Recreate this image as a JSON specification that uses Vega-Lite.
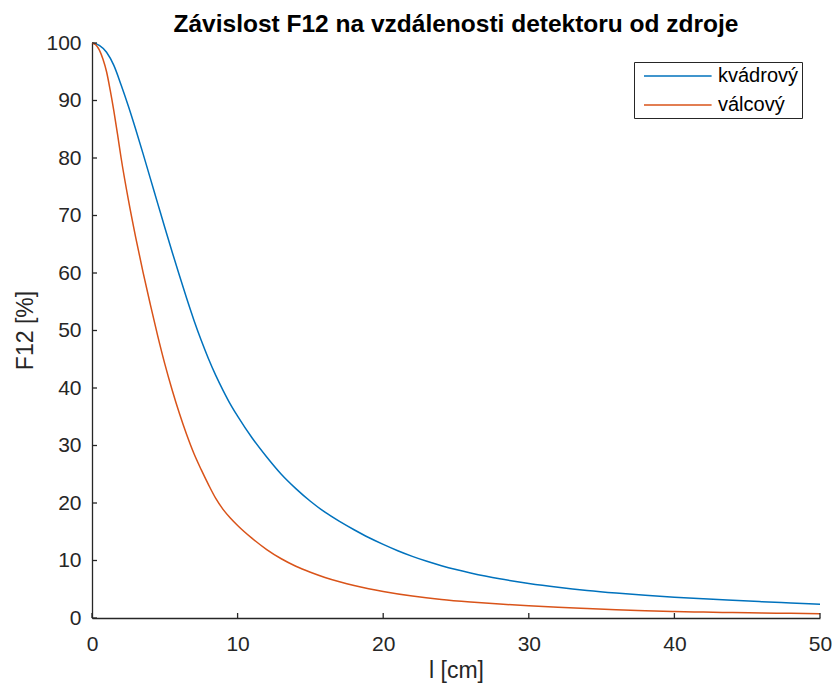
{
  "$schema": "https://vega.github.io/schema/vega-lite/v6.json",
  "width": 728,
  "height": 575,
  "autosize": {"type": "none"},
  "padding": {"left": 92, "top": 43, "right": 15, "bottom": 71},
  "background": "white",
  "title": {
    "text": "Závislost F12 na vzdálenosti detektoru od zdroje",
    "font": "Liberation Sans",
    "fontSize": 24.5,
    "fontWeight": "bold",
    "color": "#000000",
    "anchor": "middle",
    "offset": -5
  },
  "layer": [
    {
      "data": {
        "values": [
          {"l": 0, "F": 100, "typ": "kvádrový"},
          {"l": 0.5, "F": 99.6, "typ": "kvádrový"},
          {"l": 1, "F": 98.4, "typ": "kvádrový"},
          {"l": 1.5, "F": 96.1, "typ": "kvádrový"},
          {"l": 2, "F": 92.7, "typ": "kvádrový"},
          {"l": 2.5, "F": 89.0, "typ": "kvádrový"},
          {"l": 3, "F": 85.0, "typ": "kvádrový"},
          {"l": 3.5, "F": 80.8, "typ": "kvádrový"},
          {"l": 4, "F": 76.5, "typ": "kvádrový"},
          {"l": 4.5, "F": 72.2, "typ": "kvádrový"},
          {"l": 5, "F": 67.9, "typ": "kvádrový"},
          {"l": 5.5, "F": 63.7, "typ": "kvádrový"},
          {"l": 6, "F": 59.6, "typ": "kvádrový"},
          {"l": 6.5, "F": 55.6, "typ": "kvádrový"},
          {"l": 7, "F": 51.8, "typ": "kvádrový"},
          {"l": 7.5, "F": 48.3, "typ": "kvádrový"},
          {"l": 8, "F": 45.1, "typ": "kvádrový"},
          {"l": 8.5, "F": 42.2, "typ": "kvádrový"},
          {"l": 9, "F": 39.6, "typ": "kvádrový"},
          {"l": 9.5, "F": 37.2, "typ": "kvádrový"},
          {"l": 10, "F": 35.1, "typ": "kvádrový"},
          {"l": 11, "F": 31.3, "typ": "kvádrový"},
          {"l": 12, "F": 28.0, "typ": "kvádrový"},
          {"l": 13, "F": 25.0, "typ": "kvádrový"},
          {"l": 14, "F": 22.5, "typ": "kvádrový"},
          {"l": 15, "F": 20.3, "typ": "kvádrový"},
          {"l": 16, "F": 18.4, "typ": "kvádrový"},
          {"l": 17, "F": 16.8, "typ": "kvádrový"},
          {"l": 18, "F": 15.35, "typ": "kvádrový"},
          {"l": 19, "F": 14.0, "typ": "kvádrový"},
          {"l": 20, "F": 12.8, "typ": "kvádrový"},
          {"l": 21, "F": 11.7, "typ": "kvádrový"},
          {"l": 22, "F": 10.72, "typ": "kvádrový"},
          {"l": 23, "F": 9.86, "typ": "kvádrový"},
          {"l": 24, "F": 9.1, "typ": "kvádrový"},
          {"l": 25, "F": 8.43, "typ": "kvádrový"},
          {"l": 26, "F": 7.84, "typ": "kvádrový"},
          {"l": 27, "F": 7.3, "typ": "kvádrový"},
          {"l": 28, "F": 6.82, "typ": "kvádrový"},
          {"l": 29, "F": 6.4, "typ": "kvádrový"},
          {"l": 30, "F": 6.02, "typ": "kvádrový"},
          {"l": 32, "F": 5.36, "typ": "kvádrový"},
          {"l": 34, "F": 4.8, "typ": "kvádrový"},
          {"l": 36, "F": 4.34, "typ": "kvádrový"},
          {"l": 38, "F": 3.95, "typ": "kvádrový"},
          {"l": 40, "F": 3.62, "typ": "kvádrový"},
          {"l": 42, "F": 3.33, "typ": "kvádrový"},
          {"l": 44, "F": 3.07, "typ": "kvádrový"},
          {"l": 46, "F": 2.83, "typ": "kvádrový"},
          {"l": 48, "F": 2.61, "typ": "kvádrový"},
          {"l": 50, "F": 2.4, "typ": "kvádrový"},
          {"l": 0, "F": 100, "typ": "válcový"},
          {"l": 0.25, "F": 99.7, "typ": "válcový"},
          {"l": 0.5, "F": 98.8, "typ": "válcový"},
          {"l": 0.75, "F": 97.2, "typ": "válcový"},
          {"l": 1, "F": 95.0, "typ": "válcový"},
          {"l": 1.25, "F": 91.8, "typ": "válcový"},
          {"l": 1.5, "F": 88.2, "typ": "válcový"},
          {"l": 1.75, "F": 84.2, "typ": "válcový"},
          {"l": 2, "F": 80.0, "typ": "válcový"},
          {"l": 2.5, "F": 72.7, "typ": "válcový"},
          {"l": 3, "F": 66.2, "typ": "válcový"},
          {"l": 3.5, "F": 60.2, "typ": "válcový"},
          {"l": 4, "F": 54.6, "typ": "válcový"},
          {"l": 4.5, "F": 49.2, "typ": "válcový"},
          {"l": 5, "F": 44.2, "typ": "válcový"},
          {"l": 5.5, "F": 39.7, "typ": "válcový"},
          {"l": 6, "F": 35.6, "typ": "válcový"},
          {"l": 6.5, "F": 31.9, "typ": "válcový"},
          {"l": 7, "F": 28.6, "typ": "válcový"},
          {"l": 7.5, "F": 25.8, "typ": "válcový"},
          {"l": 8, "F": 23.2, "typ": "válcový"},
          {"l": 8.5, "F": 20.8, "typ": "válcový"},
          {"l": 9, "F": 18.9, "typ": "válcový"},
          {"l": 9.5, "F": 17.4, "typ": "válcový"},
          {"l": 10, "F": 16.1, "typ": "válcový"},
          {"l": 11, "F": 13.85, "typ": "válcový"},
          {"l": 12, "F": 11.9, "typ": "válcový"},
          {"l": 13, "F": 10.3, "typ": "válcový"},
          {"l": 14, "F": 9.0, "typ": "válcový"},
          {"l": 15, "F": 7.95, "typ": "válcový"},
          {"l": 16, "F": 7.05, "typ": "válcový"},
          {"l": 17, "F": 6.3, "typ": "válcový"},
          {"l": 18, "F": 5.65, "typ": "válcový"},
          {"l": 19, "F": 5.1, "typ": "válcový"},
          {"l": 20, "F": 4.62, "typ": "válcový"},
          {"l": 22, "F": 3.82, "typ": "válcový"},
          {"l": 24, "F": 3.22, "typ": "válcový"},
          {"l": 26, "F": 2.78, "typ": "válcový"},
          {"l": 28, "F": 2.42, "typ": "válcový"},
          {"l": 30, "F": 2.12, "typ": "válcový"},
          {"l": 32, "F": 1.86, "typ": "válcový"},
          {"l": 34, "F": 1.64, "typ": "válcový"},
          {"l": 36, "F": 1.44, "typ": "válcový"},
          {"l": 38, "F": 1.28, "typ": "válcový"},
          {"l": 40, "F": 1.14, "typ": "válcový"},
          {"l": 42, "F": 1.03, "typ": "válcový"},
          {"l": 44, "F": 0.94, "typ": "válcový"},
          {"l": 46, "F": 0.87, "typ": "válcový"},
          {"l": 48, "F": 0.81, "typ": "válcový"},
          {"l": 50, "F": 0.75, "typ": "válcový"}
        ]
      },
      "mark": {"type": "line", "strokeWidth": 1.5, "interpolate": "monotone"},
      "encoding": {
        "x": {
          "field": "l",
          "type": "quantitative",
          "title": "l [cm]",
          "scale": {"domain": [0, 50], "nice": false, "zero": false},
          "axis": {
            "title": "l [cm]",
            "orient": "bottom",
            "values": [0, 10, 20, 30, 40, 50],
            "ticks": false,
            "labelFlush": false,
            "labelPadding": 15,
            "titleY": 59,
            "titleBaseline": "alphabetic"
          }
        },
        "y": {
          "field": "F",
          "type": "quantitative",
          "title": "F12 [%]",
          "scale": {"domain": [0, 100], "nice": false},
          "axis": {
            "title": "F12 [%]",
            "orient": "left",
            "values": [0, 10, 20, 30, 40, 50, 60, 70, 80, 90, 100],
            "ticks": false,
            "labelFlush": false,
            "labelPadding": 11,
            "titleX": -60,
            "titleY": 287,
            "titleBaseline": "alphabetic",
            "titleAngle": -90,
            "titleAlign": "center"
          }
        },
        "color": {
          "field": "typ",
          "type": "nominal",
          "scale": {"domain": ["kvádrový", "válcový"], "range": ["#0072BD", "#D95319"]},
          "legend": {
            "title": null,
            "orient": "none",
            "legendX": 542,
            "legendY": 19,
            "symbolType": "M-1,0H5.76",
            "symbolSize": 400,
            "symbolOffset": 6,
            "symbolStrokeWidth": 1.5,
            "labelOffset": 53,
            "labelFont": "Liberation Sans",
            "labelFontSize": 20,
            "labelColor": "#000000",
            "strokeColor": "#262626",
            "fillColor": "white",
            "padding": 3,
            "rowPadding": 8
          }
        }
      }
    },
    {
      "data": {"values": [{"tx": 0}, {"tx": 10}, {"tx": 20}, {"tx": 30}, {"tx": 40}, {"tx": 50}]},
      "mark": {"type": "tick", "orient": "vertical", "size": 5, "thickness": 1.3, "yOffset": -2.5, "color": "#262626", "opacity": 1},
      "encoding": {
        "x": {"field": "tx", "type": "quantitative", "title": "l [cm]"},
        "y": {"datum": 0, "type": "quantitative", "title": "F12 [%]"}
      }
    },
    {
      "data": {"values": [{"ty": 0}, {"ty": 10}, {"ty": 20}, {"ty": 30}, {"ty": 40}, {"ty": 50}, {"ty": 60}, {"ty": 70}, {"ty": 80}, {"ty": 90}, {"ty": 100}]},
      "mark": {"type": "tick", "orient": "horizontal", "size": 5, "thickness": 1.3, "xOffset": 2.5, "color": "#262626", "opacity": 1},
      "encoding": {
        "y": {"field": "ty", "type": "quantitative", "title": "F12 [%]"},
        "x": {"datum": 0, "type": "quantitative", "title": "l [cm]"}
      }
    }
  ],
  "config": {
    "view": {"stroke": null},
    "axis": {
      "grid": false,
      "domainColor": "#262626",
      "domainWidth": 1.3,
      "tickColor": "#262626",
      "tickWidth": 1.3,
      "labelFont": "Liberation Sans",
      "labelFontSize": 21,
      "labelColor": "#262626",
      "titleFont": "Liberation Sans",
      "titleFontSize": 23,
      "titleFontWeight": "normal",
      "titleColor": "#262626"
    }
  }
}
